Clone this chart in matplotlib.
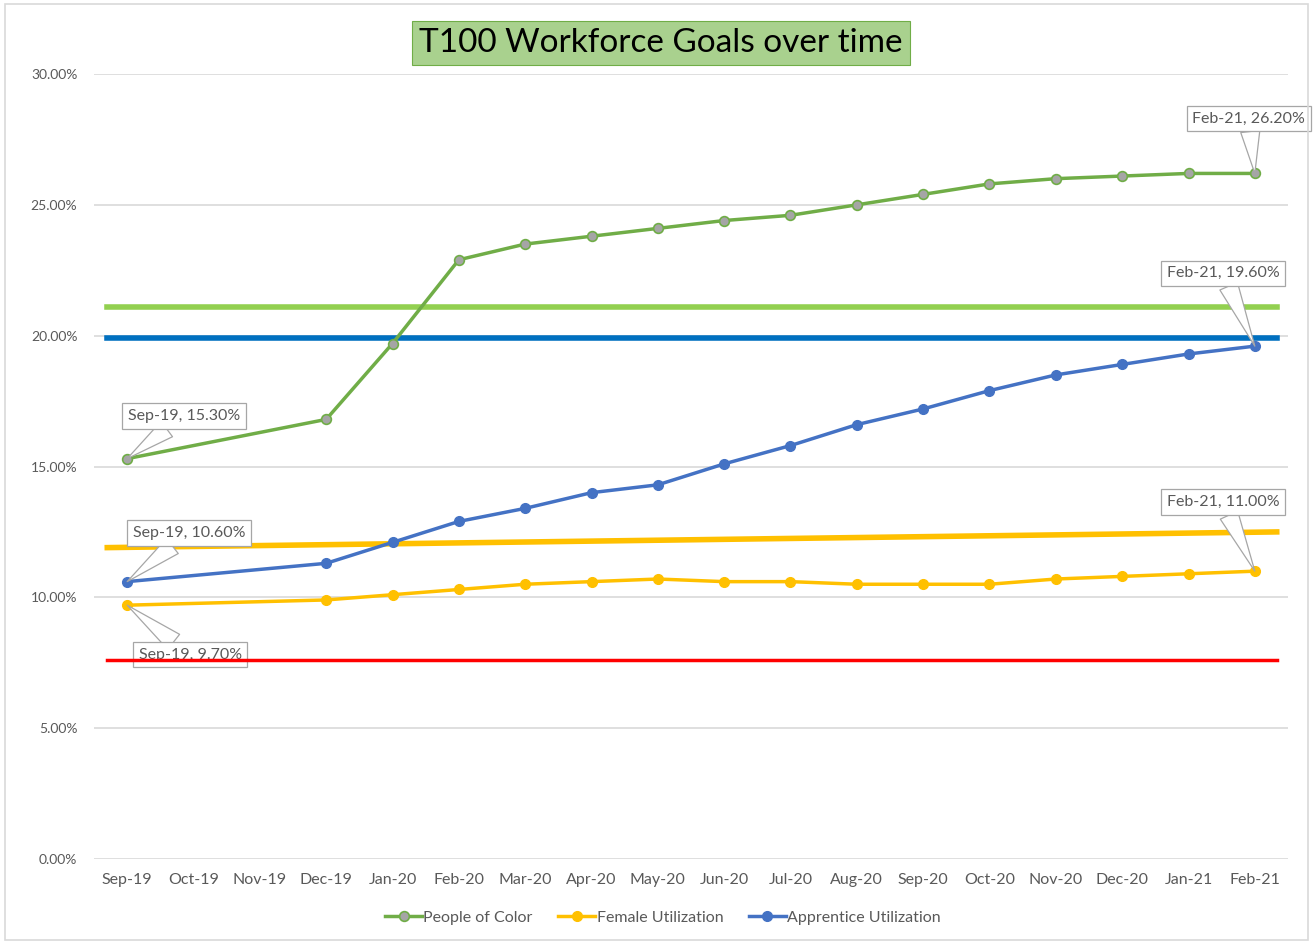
import matplotlib.pyplot as plt
import matplotlib.patches as mpatches
import numpy as np

plt.rcParams['font.family'] = ['Lato', 'DejaVu Sans']

months = ["Sep-19", "Oct-19", "Nov-19", "Dec-19", "Jan-20", "Feb-20", "Mar-20",
          "Apr-20", "May-20", "Jun-20", "Jul-20", "Aug-20", "Sep-20", "Oct-20",
          "Nov-20", "Dec-20", "Jan-21", "Feb-21"]

# None = no data that month (Excel joins the points across the gap)
people_of_color = [15.3, None, None, 16.8, 19.7, 22.9, 23.5, 23.8, 24.1, 24.4,
                   24.6, 25.0, 25.4, 25.8, 26.0, 26.1, 26.2, 26.2]
female_util = [9.7, None, None, 9.9, 10.1, 10.3, 10.5, 10.6, 10.7, 10.6,
               10.6, 10.5, 10.5, 10.5, 10.7, 10.8, 10.9, 11.0]
apprentice_util = [10.6, None, None, 11.3, 12.1, 12.9, 13.4, 14.0, 14.3, 15.1,
                   15.8, 16.6, 17.2, 17.9, 18.5, 18.9, 19.3, 19.6]

# goal lines (start, end) in percent
goal_poc = (21.1, 21.1)
goal_apprentice = (19.9, 19.9)
goal_female = (11.9, 12.5)
goal_red = (7.6, 7.6)

fig = plt.figure(figsize=(13.16, 9.43), dpi=100)
ax = fig.add_axes([94 / 1316, 1 - 859 / 943, 1194 / 1316, 785 / 943])

# chart area border
fig.patches.append(mpatches.Rectangle((5 / 1316, 3 / 943), 1303 / 1316, 936 / 943,
                                      transform=fig.transFigure, fill=False,
                                      ec="#d9d9d9", lw=1.2))

x_all = np.arange(len(months))


def series(vals):
    xs = [x for x, v in zip(x_all, vals) if v is not None]
    ys = [v for v in vals if v is not None]
    return np.array(xs), np.array(ys)


gx0, gx1 = -0.3, len(months) - 1 + 0.33
ax.plot([gx0, gx1], goal_poc, color="#92d050", lw=4, zorder=2)
ax.plot([gx0, gx1], goal_apprentice, color="#0070c0", lw=4, zorder=2)
ax.plot([gx0, gx1], goal_female, color="#ffc000", lw=4, zorder=2)

x, y = series(people_of_color)
ax.plot(x, y, color="#70ad47", lw=2.5, marker="o", ms=7, mfc="#a5a5a5",
        mec="#70ad47", mew=1.2, label="People of Color", zorder=3)
x, y = series(female_util)
ax.plot(x, y, color="#ffc000", lw=2.5, marker="o", ms=7, mfc="#ffc000",
        mec="#ffc000", label="Female Utilization", zorder=3)
x, y = series(apprentice_util)
ax.plot(x, y, color="#4472c4", lw=2.5, marker="o", ms=7, mfc="#4472c4",
        mec="#4472c4", label="Apprentice Utilization", zorder=3)

# data callouts
last = len(months) - 1
callouts = [
    (0, people_of_color[0], 0.86, 16.93),
    (0, apprentice_util[0], 0.93, 12.46),
    (0, female_util[0], 0.95, 7.8),
    (last, people_of_color[last], 16.91, 28.3),
    (last, apprentice_util[last], 16.52, 22.39),
    (last, female_util[last], 16.52, 13.64),
]
for xi, val, tx, ty in callouts:
    ax.annotate(f"{months[xi]}, {val:.2f}%", xy=(xi, val), xytext=(tx, ty),
                ha="center", va="center", fontsize=11.5, color="#595959",
                annotation_clip=False, zorder=4,
                bbox=dict(boxstyle="square,pad=0.35", fc="white", ec="#a6a6a6", lw=0.9),
                arrowprops=dict(arrowstyle="wedge,tail_width=1.2,shrink_factor=0.5",
                                fc="white", ec="#a6a6a6", lw=0.9, shrinkA=0, shrinkB=0))

ax.plot([gx0, gx1], goal_red, color="#ff0000", lw=2.5, zorder=5)

ax.set_xlim(-0.5, len(months) - 0.5)
ax.set_ylim(0, 30)
ax.set_xticks(x_all)
ax.set_xticklabels(months)
ax.set_yticks(np.arange(0, 31, 5))
ax.set_yticklabels([f"{v:.2f}%" for v in np.arange(0, 31, 5)])
ax.tick_params(length=0, labelcolor="#595959")
ax.tick_params(axis="x", pad=10, labelsize=11.5)
ax.tick_params(axis="y", pad=12, labelsize=10)
ax.grid(axis="y", color="#d9d9d9", lw=1.2)
ax.set_axisbelow(True)
for s in ax.spines.values():
    s.set_visible(False)

fig.text(661 / 1316, 1 - 43 / 943, "T100 Workforce Goals over time", ha="center",
         va="center", fontsize=24, color="black",
         bbox=dict(boxstyle="square,pad=0.22", fc="#a9d18e", ec="#70ad47", lw=0.8))

leg = fig.legend(loc="center", bbox_to_anchor=(663 / 1316, 1 - 918 / 943), ncol=3,
                 frameon=False, fontsize=11.5, handlelength=2.3, columnspacing=1.6,
                 handletextpad=0.1)
for t in leg.get_texts():
    t.set_color("#595959")

fig.savefig("out.png", dpi=100)
